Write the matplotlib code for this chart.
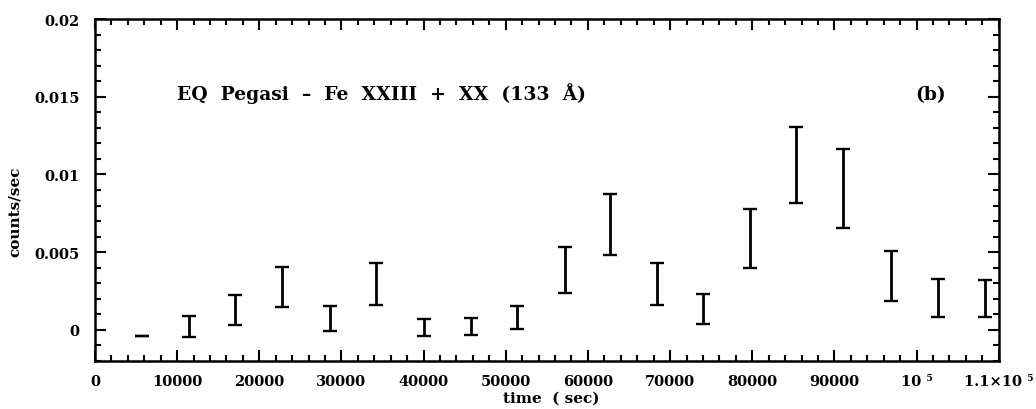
import numpy as np
import matplotlib
matplotlib.use("Agg")
import matplotlib.pyplot as plt
from matplotlib.ticker import MultipleLocator

# light curve bins
time = [5725, 11490, 17090, 22815, 28620, 34230, 39990, 45800, 51400, 57160,
        62660, 68410, 74020, 79780, 85345, 91070, 96830, 102600, 108280]
rate_hi = [-0.00036, 0.00089, 0.00224, 0.00403, 0.00153, 0.00433, 0.00068, 0.00075, 0.00153, 0.00533,
           0.00872, 0.00431, 0.00230, 0.00778, 0.01306, 0.01166, 0.00505, 0.00330, 0.00324]
rate_lo = [-0.00040, -0.00045, 0.00032, 0.00147, -0.00004, 0.00160, -0.00038, -0.00032, 0.00004, 0.00239,
           0.00482, 0.00160, 0.00038, 0.00399, 0.00814, 0.00654, 0.00188, 0.00086, 0.00086]

xticks = [0, 10000, 20000, 30000, 40000, 50000, 60000, 70000, 80000, 90000, 100000, 110000]
xlabels = ['0', '10000', '20000', '30000', '40000', '50000', '60000', '70000',
           '80000', '90000', '10 \u2075', '1.1\u00d710 \u2075']
yticks = [0, 0.005, 0.01, 0.015, 0.02]
ylabels = ['0', '0.005', '0.01', '0.015', '0.02']

hi = np.array(rate_hi)
lo = np.array(rate_lo)
mid = (hi + lo) / 2
err = (hi - lo) / 2

plt.rcParams['font.family'] = 'DejaVu Serif'
plt.rcParams['font.weight'] = 'bold'

fig = plt.figure(figsize=(10.36, 4.10), dpi=100)
ax = fig.add_axes([95/1036, 1 - 362/410, (998.7 - 95)/1036, (362 - 20)/410])

ax.errorbar(time, mid, yerr=err, fmt='none', ecolor='black', elinewidth=2,
            capsize=4.8, capthick=1.7)

ax.set_xlim(0, 110000)
ax.set_ylim(-0.002, 0.02)
ax.set_xticks(xticks)
ax.set_xticklabels(xlabels, fontsize=10.5, fontweight='bold')
ax.set_yticks(yticks)
ax.set_yticklabels(ylabels, fontsize=10.5, fontweight='bold')
ax.xaxis.set_minor_locator(MultipleLocator(2000))
ax.yaxis.set_minor_locator(MultipleLocator(0.001))
ax.tick_params(which='both', direction='in', top=True, right=True, width=1.5)
ax.tick_params(which='major', length=8)
ax.tick_params(axis='x', which='major', pad=9.5)
ax.tick_params(axis='y', which='major', pad=11)
ax.tick_params(which='minor', length=4.5)
for s in ax.spines.values():
    s.set_linewidth(1.8)

ax.set_xlabel('time  ( sec)', fontsize=11, fontweight='bold')
ax.xaxis.set_label_coords(0.505, -0.088)
ax.set_ylabel('counts/sec', fontsize=11, fontweight='bold')
ax.yaxis.set_label_coords(-0.081, 0.44)

ax.text(0.091, 0.765, 'EQ  Pegasi  \u2013  Fe  XXIII  +  XX  (133  \u00c5)', transform=ax.transAxes,
        fontsize=13.5, fontweight='bold', va='baseline')
ax.text(0.908, 0.765, '(b)', transform=ax.transAxes, fontsize=13.5,
        fontweight='bold', va='baseline')

fig.savefig('out.png', dpi=100)
